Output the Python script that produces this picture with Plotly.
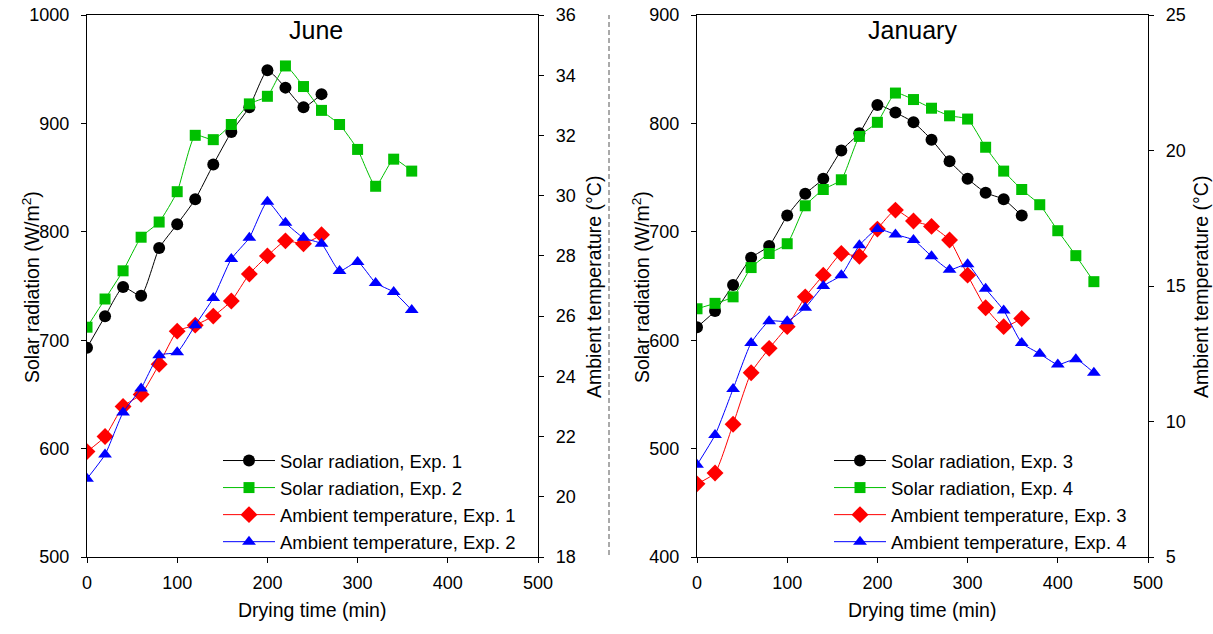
import plotly.graph_objects as go

# ---------------- data ----------------
t_exp1 = [0, 20, 40, 60, 80, 100, 120, 140, 160, 180, 200, 220, 240, 260]
solar_exp1 = [693, 722, 749, 741, 785, 807, 830, 862, 892, 915, 949, 933, 915, 927]
temp_exp1 = [21.5, 22.0, 23.0, 23.4, 24.4, 25.5, 25.7, 26.0, 26.5, 27.4, 28.0, 28.5, 28.4, 28.7]

t_exp2 = [0, 20, 40, 60, 80, 100, 120, 140, 160, 180, 200, 220, 240, 260, 280, 300, 320, 340, 360]
solar_exp2 = [712, 738, 764, 795, 809, 837, 889, 885, 899, 918, 925, 953, 934, 912, 899, 876, 842, 867, 856]
temp_exp2 = [20.6, 21.4, 22.8, 23.6, 24.7, 24.8, 25.7, 26.6, 27.9, 28.6, 29.8, 29.1, 28.6, 28.4, 27.5, 27.8, 27.1, 26.8, 26.2]

t_exp3 = [0, 20, 40, 60, 80, 100, 120, 140, 160, 180, 200, 220, 240, 260, 280, 300, 320, 340, 360]
solar_exp3 = [612, 627, 651, 676, 687, 715, 735, 749, 775, 791, 817, 810, 801, 785, 765, 749, 736, 730, 715]
temp_exp3 = [7.7, 8.1, 9.9, 11.8, 12.7, 13.5, 14.6, 15.4, 16.2, 16.1, 17.1, 17.8, 17.4, 17.2, 16.7, 15.4, 14.2, 13.5, 13.8]

t_exp4 = [0, 20, 40, 60, 80, 100, 120, 140, 160, 180, 200, 220, 240, 260, 280, 300, 320, 340, 360, 380, 400, 420, 440]
solar_exp4 = [629, 634, 640, 667, 680, 689, 724, 739, 748, 788, 801, 828, 822, 814, 807, 804, 778, 756, 739, 725, 701, 678, 654]
temp_exp4 = [8.4, 9.5, 11.2, 12.9, 13.7, 13.7, 14.2, 15.0, 15.4, 16.5, 17.1, 16.9, 16.7, 16.1, 15.6, 15.8, 14.9, 14.1, 12.9, 12.5, 12.1, 12.3, 11.8]

names_left = ["Solar radiation, Exp. 1", "Solar radiation, Exp. 2",
              "Ambient temperature, Exp. 1", "Ambient temperature, Exp. 2"]
names_right = ["Solar radiation, Exp. 3", "Solar radiation, Exp. 4",
               "Ambient temperature, Exp. 3", "Ambient temperature, Exp. 4"]
panel_titles = ["June", "January"]
x_title = "Drying time (min)"
y_title_left = "Solar radiation (W/m<sup>2</sup>)"
y_title_right = "Ambient temperature (°C)"

# ---------------- style ----------------
FONT = "Arial, 'Liberation Sans', sans-serif"
BLACK, GREEN, RED, BLUE = "#000000", "#00C000", "#FF0000", "#0000FF"
styles = [(BLACK, "circle", 12), (GREEN, "square", 11), (RED, "diamond", 13), (BLUE, "triangle-up", 12)]
TICK_SIZE = 18
TEXT_SIZE = 19.5
LEG_SIZE = 18.5

fig = go.Figure()


def add(x, y, name, style, xa, ya, legend):
    color, symbol, size = style
    fig.add_trace(go.Scatter(
        x=x, y=y, name=name, mode="lines+markers",
        line=dict(color=color, width=1, shape="spline", smoothing=0.5),
        marker=dict(color=color, symbol=symbol, size=size, line=dict(width=0)),
        xaxis=xa, yaxis=ya, legend=legend))


add(t_exp1, solar_exp1, names_left[0], styles[0], "x", "y", "legend")
add(t_exp2, solar_exp2, names_left[1], styles[1], "x", "y", "legend")
add(t_exp1, temp_exp1, names_left[2], styles[2], "x", "y2", "legend")
add(t_exp2, temp_exp2, names_left[3], styles[3], "x", "y2", "legend")

add(t_exp3, solar_exp3, names_right[0], styles[0], "x2", "y3", "legend2")
add(t_exp4, solar_exp4, names_right[1], styles[1], "x2", "y3", "legend2")
add(t_exp3, temp_exp3, names_right[2], styles[2], "x2", "y4", "legend2")
add(t_exp4, temp_exp4, names_right[3], styles[3], "x2", "y4", "legend2")

W, H = 1213, 634
xl = [87 / W, 538 / W]
xr = [697 / W, 1148 / W]
yd = [1 - 557 / H, 1 - 15 / H]

axis_common = dict(showline=True, linecolor="black", linewidth=1.2, ticks="outside",
                   ticklen=5, tickcolor="black", showgrid=False, zeroline=False,
                   tickfont=dict(family=FONT, size=TICK_SIZE, color="black"))
xax = dict(range=[0, 500], dtick=100, mirror=True, ticklabelstandoff=4, **axis_common)
yax = dict(ticklabelstandoff=8, **axis_common)

leg_common = dict(bgcolor="rgba(0,0,0,0)", font=dict(family=FONT, size=LEG_SIZE, color="black"),
                  tracegroupgap=0, itemwidth=52, yanchor="top", xanchor="left")

fig.update_layout(
    width=W, height=H, margin=dict(l=0, r=0, t=0, b=0, autoexpand=False),
    paper_bgcolor="white", plot_bgcolor="white",
    font=dict(family=FONT, size=TEXT_SIZE, color="black"),
    xaxis=dict(domain=xl, anchor="y", **xax),
    yaxis=dict(domain=yd, range=[500, 1000], dtick=100, anchor="x", **yax),
    yaxis2=dict(range=[18, 36], dtick=2, overlaying="y", side="right", anchor="x", **yax),
    xaxis2=dict(domain=xr, anchor="y3", **xax),
    yaxis3=dict(domain=yd, range=[400, 900], dtick=100, anchor="x2", **yax),
    yaxis4=dict(range=[5, 25], dtick=5, overlaying="y3", side="right", anchor="x2", **yax),
    legend=dict(x=218 / W, y=1 - 442 / H, **leg_common),
    legend2=dict(x=829 / W, y=1 - 442 / H, **leg_common),
    showlegend=True,
)

tfont = dict(family=FONT, size=TEXT_SIZE, color="black")
# panel titles
for cx, txt in ((316, panel_titles[0]), (912, panel_titles[1])):
    fig.add_annotation(text=txt, xref="paper", yref="paper", x=cx / W, y=1 - 30 / H,
                       xanchor="center", yanchor="middle", showarrow=False,
                       font=dict(family=FONT, size=25, color="black"))
# axis titles
for cx in (312, 922):
    fig.add_annotation(text=x_title, xref="paper", yref="paper", x=cx / W, y=1 - 610 / H,
                       xanchor="center", yanchor="middle", showarrow=False, font=tfont)
for cx, txt in ((31, y_title_left), (594, y_title_right), (641, y_title_left), (1201, y_title_right)):
    fig.add_annotation(text=txt, xref="paper", yref="paper", x=cx / W, y=1 - 287 / H,
                       xanchor="center", yanchor="middle", showarrow=False, textangle=-90, font=tfont)

fig.add_shape(type="line", xref="paper", yref="paper", x0=609 / W, x1=609 / W,
              y0=1 - 555 / H, y1=1 - 15 / H, line=dict(color="#555555", width=1, dash="5px,3px"))

fig.write_html("out.html", config={"displayModeBar": False},
               post_script="document.body.style.margin='0';")
